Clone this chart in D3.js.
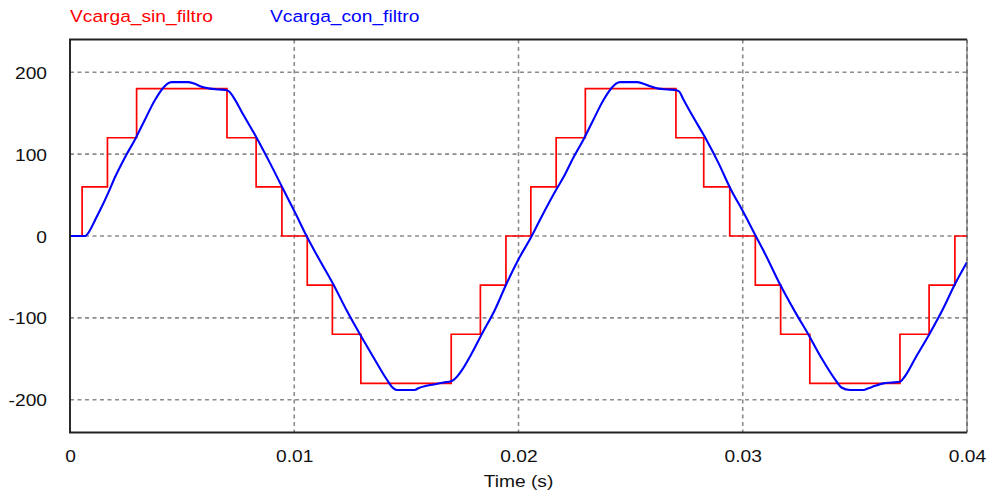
<!DOCTYPE html>
<html>
<head>
<meta charset="utf-8">
<script src="https://cdn.jsdelivr.net/npm/d3@7/dist/d3.min.js"></script>
<style>
  html, body { margin: 0; padding: 0; background: #fff; }
  svg { display: block; }
  text { font-family: "Liberation Sans", Arial, sans-serif; }
</style>
</head>
<body>
<svg id="chart" width="987" height="492"></svg>
<script>
// Time ticks (s) and voltage ticks (V)
const timeTicks = [0, 0.01, 0.02, 0.03, 0.04];
const timeTickLabels = ["0", "0.01", "0.02", "0.03", "0.04"];
const voltTicks = [-200, -100, 0, 100, 200];
const voltTickLabels = ["-200", "-100", "0", "100", "200"];

// Series names
const seriesNames = ["Vcarga_sin_filtro", "Vcarga_con_filtro"];
const seriesColors = ["#ff0000", "#0000ff"];

// Unfiltered load voltage: multilevel staircase (switching instants and levels)
const stepT = [0, 0.00054, 0.00167, 0.00297, 0.00700, 0.00830, 0.00945,
  0.01058, 0.01170, 0.01297, 0.01700, 0.01830, 0.01944,
  0.02055, 0.02168, 0.02298, 0.02702, 0.02826, 0.02942,
  0.03056, 0.03169, 0.03299, 0.03701, 0.03831, 0.03946, 0.04];
const stepV = [0, 60, 120, 180, 120, 60, 0,
  -60, -120, -180, -120, -60, 0,
  60, 120, 180, 120, 60, 0,
  -60, -120, -180, -120, -60, 0, 0];

// Filtered load voltage samples
const filtT = [0, 0.00067, 0.00089, 0.00111, 0.00135, 0.00171, 0.00201, 0.00245, 0.00290, 0.00334,
  0.00379, 0.00416, 0.00435, 0.00453, 0.00490, 0.00528, 0.00557, 0.00580, 0.00624, 0.00665,
  0.00699, 0.00712, 0.00728, 0.00773, 0.00832, 0.00892, 0.00951, 0.01003, 0.01055, 0.01100,
  0.01174, 0.01234, 0.01293, 0.01353, 0.01412, 0.01435, 0.01457, 0.01494, 0.01538, 0.01553,
  0.01590, 0.01628, 0.01665, 0.01702, 0.01718, 0.01747, 0.01790, 0.01836, 0.01895, 0.01947,
  0.01999, 0.02059,
  0.02100, 0.02171, 0.02201, 0.02245, 0.02290, 0.02334, 0.02379, 0.02416, 0.02435, 0.02453,
  0.02490, 0.02528, 0.02557, 0.02586, 0.02624, 0.02665, 0.02705, 0.02718, 0.02735, 0.02765,
  0.02839, 0.02892, 0.02943, 0.03003, 0.03058, 0.03100, 0.03166, 0.03234, 0.03292, 0.03353,
  0.03419, 0.03440, 0.03478, 0.03510, 0.03538, 0.03560, 0.03590, 0.03627, 0.03665, 0.03701,
  0.03724, 0.03770, 0.03832, 0.03895, 0.03946, 0.04000];
const filtV = [0, 0, 7, 19, 32, 53, 72, 96, 118, 142,
  166, 181, 186, 188, 188, 188, 186, 183, 180, 179,
  178, 176, 170, 148, 120, 89, 57, 29, 0, -23,
  -59, -91, -120, -148, -175, -184, -188, -188, -188, -186,
  -183, -181, -179, -177, -174, -164, -144, -120, -90, -58,
  -29, 0,
  22, 58, 72, 96, 118, 142, 166, 181, 186, 188,
  188, 188, 186, 183, 180, 179, 178, 176, 167, 152,
  117, 89, 59, 29, 0, -22, -59, -93, -120, -150,
  -178, -185, -188, -188, -188, -186, -183, -180, -179, -178,
  -171, -149, -120, -88, -59, -32];

const svg = d3.select("#chart");
const plotL = 70, plotR = 967, plotT = 39.5, plotB = 432.5;
const SX = 1.13; // horizontal text stretch

const x = d3.scaleLinear().domain([0, 0.04]).range([plotL, plotR]);
const y = d3.scaleLinear().domain([-240, 240]).range([plotB, plotT]);

// Grid
const grid = svg.append("g").attr("stroke", "#8c8c8c").attr("stroke-width", 1.6)
  .attr("stroke-dasharray", "4,3.5");
grid.selectAll("line.h").data(voltTicks).join("line").attr("class", "h")
  .attr("x1", plotL).attr("x2", plotR)
  .attr("y1", d => y(d)).attr("y2", d => y(d));
grid.selectAll("line.v").data(timeTicks.slice(1)).join("line").attr("class", "v")
  .attr("y1", plotT).attr("y2", plotB)
  .attr("x1", d => x(d)).attr("x2", d => x(d));

// Series
const stepData = stepT.map((t, i) => [t, stepV[i]]);
const filtData = filtT.map((t, i) => [t, filtV[i]]);

svg.append("path").datum(stepData)
  .attr("fill", "none").attr("stroke", seriesColors[0]).attr("stroke-width", 1.7)
  .attr("d", d3.line().x(d => x(d[0])).y(d => y(d[1])).curve(d3.curveStepAfter));

svg.append("path").datum(filtData)
  .attr("fill", "none").attr("stroke", seriesColors[1]).attr("stroke-width", 2.1)
  .attr("stroke-linejoin", "round")
  .attr("d", d3.line().x(d => x(d[0])).y(d => y(d[1])).curve(d3.curveMonotoneX));

// Frame: left, bottom, top
svg.append("path")
  .attr("d", `M${plotR},${plotT}H${plotL}V${plotB}H${plotR}`)
  .attr("fill", "none").attr("stroke", "#222").attr("stroke-width", 1.9);
svg.append("line").attr("x1", plotR).attr("x2", plotR).attr("y1", plotT).attr("y2", plotB)
  .attr("stroke", "#555").attr("stroke-width", 1);

// Axes (labels only)
const yAxis = svg.append("g").attr("transform", `translate(${plotL},0)`)
  .call(d3.axisLeft(y).tickValues(voltTicks)
    .tickFormat((d, i) => voltTickLabels[i]).tickSize(0).tickPadding(0));
yAxis.select(".domain").remove();
yAxis.selectAll("text")
  .attr("x", null).attr("dy", null)
  .attr("transform", `translate(-23,6) scale(${SX},1)`)
  .attr("font-size", 17).attr("fill", "#111");
yAxis.attr("font-family", null);

const xAxis = svg.append("g").attr("transform", `translate(0,${plotB})`)
  .call(d3.axisBottom(x).tickValues(timeTicks)
    .tickFormat((d, i) => timeTickLabels[i]).tickSize(0).tickPadding(0));
xAxis.select(".domain").remove();
xAxis.selectAll("text")
  .attr("y", null).attr("dy", null)
  .attr("transform", `translate(0,29) scale(${SX},1)`)
  .attr("font-size", 17).attr("fill", "#111");
xAxis.attr("font-family", null);

svg.append("text")
  .attr("transform", `translate(${(plotL + plotR) / 2},487) scale(${SX},1)`)
  .attr("text-anchor", "middle").attr("font-size", 17).attr("fill", "#111")
  .text("Time (s)");

// Legend
const legendX = [70, 270];
svg.selectAll("text.legend").data(seriesNames).join("text")
  .attr("class", "legend")
  .attr("transform", (d, i) => `translate(${legendX[i]},21.5) scale(${SX},1)`)
  .attr("font-size", 17).attr("fill", (d, i) => seriesColors[i])
  .text(d => d);
</script>
</body>
</html>
